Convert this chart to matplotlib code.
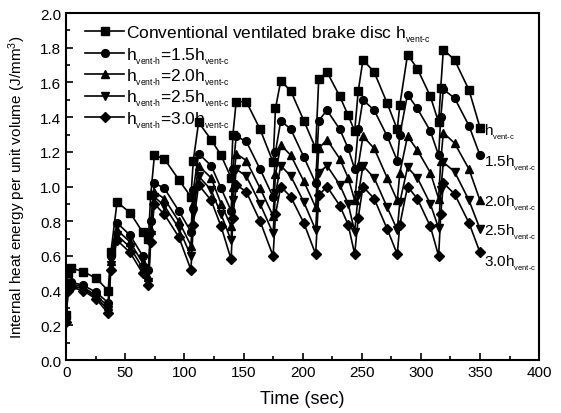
import matplotlib
matplotlib.use("Agg")
import matplotlib.pyplot as plt
from matplotlib.ticker import MultipleLocator

plt.rcParams["font.family"] = ["Liberation Sans", "DejaVu Sans"]
plt.rcParams["mathtext.fontset"] = "custom"
plt.rcParams["mathtext.rm"] = "Liberation Sans"
plt.rcParams["mathtext.it"] = "Liberation Sans"

# ---- data (time in sec, energy in J/mm^3) -----------------------------------
time_s = [0, 1.5, 4, 14.5, 25.5,
          35.5, 37.8, 43, 54, 64.7,
          69.5, 71.5, 74.6, 83, 95.2,
          105.5, 107.5, 112, 122.6, 131,
          139.5, 141, 143.8, 152.3, 164,
          175, 177, 181.5, 190, 201,
          211, 213.6, 220.6, 231.4, 238.5,
          244, 247, 251, 260.5, 271.5,
          280, 282.2, 288.7, 297, 308,
          315, 316.8, 319, 328.5, 340.7,
          350]

conventional = [0.26, 0.50, 0.53, 0.51, 0.47,
                0.40, 0.62, 0.91, 0.85, 0.736,
                0.70, 0.95, 1.18, 1.16, 1.04,
                0.94, 1.15, 1.37, 1.27, 1.18,
                1.05, 1.30, 1.49, 1.49, 1.33,
                1.14, 1.45, 1.61, 1.55, 1.38,
                1.22, 1.62, 1.66, 1.52, 1.41,
                1.32, 1.55, 1.73, 1.66, 1.48,
                1.33, 1.47, 1.76, 1.68, 1.52,
                1.37, 1.57, 1.79, 1.73, 1.556,
                1.34]

h15 = [0.25, 0.43, 0.45, 0.43, 0.39,
       0.33, 0.60, 0.79, 0.72, 0.60,
       0.52, 0.80, 1.02, 0.99, 0.86,
       0.74, 0.98, 1.19, 1.12, 0.99,
       0.86, 1.10, 1.29, 1.26, 1.10,
       0.94, 1.20, 1.38, 1.33, 1.17,
       1.02, 1.38, 1.44, 1.33, 1.22,
       1.10, 1.33, 1.50, 1.44, 1.29,
       1.15, 1.30, 1.53, 1.45, 1.32,
       1.18, 1.40, 1.56, 1.51, 1.35,
       1.18]

h20 = [0.24, 0.42, 0.44, 0.42, 0.37,
       0.31, 0.57, 0.75, 0.68, 0.56,
       0.48, 0.75, 0.97, 0.93, 0.80,
       0.66, 0.90, 1.12, 1.05, 0.90,
       0.77, 1.00, 1.19, 1.15, 0.99,
       0.83, 1.07, 1.24, 1.18, 1.03,
       0.88, 1.22, 1.27, 1.16, 1.05,
       0.92, 1.12, 1.29, 1.22, 1.05,
       0.92, 1.08, 1.29, 1.21, 1.08,
       0.93, 1.15, 1.31, 1.25, 1.10,
       0.92]

h25 = [0.23, 0.41, 0.43, 0.41, 0.36,
       0.29, 0.55, 0.72, 0.65, 0.53,
       0.45, 0.72, 0.94, 0.89, 0.76,
       0.60, 0.85, 1.06, 0.98, 0.84,
       0.69, 0.92, 1.10, 1.06, 0.90,
       0.73, 0.96, 1.12, 1.06, 0.91,
       0.75, 1.08, 1.12, 1.01, 0.90,
       0.74, 0.95, 1.12, 1.05, 0.88,
       0.75, 0.91, 1.11, 1.05, 0.90,
       0.76, 0.98, 1.14, 1.085, 0.92,
       0.755]

h30 = [0.22, 0.40, 0.42, 0.40, 0.35,
       0.27, 0.52, 0.69, 0.62, 0.50,
       0.43, 0.68, 0.90, 0.84, 0.71,
       0.52, 0.78, 1.01, 0.92, 0.77,
       0.58, 0.82, 1.01, 0.97, 0.80,
       0.60, 0.84, 1.00, 0.94, 0.79,
       0.61, 0.95, 1.00, 0.89, 0.78,
       0.61, 0.82, 1.00, 0.93, 0.755,
       0.61, 0.78, 1.00, 0.93, 0.77,
       0.60, 0.84, 1.02, 0.957, 0.79,
       0.62]

SUB_H = r"$_{_{\mathregular{vent‐h}}}$"
SUB_C = r"$_{_{\mathregular{vent‐c}}}$"
legend_labels = ["Conventional ventilated brake disc h" + SUB_C,
                 "h" + SUB_H + "=1.5h" + SUB_C,
                 "h" + SUB_H + "=2.0h" + SUB_C,
                 "h" + SUB_H + "=2.5h" + SUB_C,
                 "h" + SUB_H + "=3.0h" + SUB_C]
end_labels = ["h" + SUB_C, "1.5h" + SUB_C, "2.0h" + SUB_C,
              "2.5h" + SUB_C, "3.0h" + SUB_C]
end_label_y = [1.32, 1.14, 0.91, 0.74, 0.565]

series = [conventional, h15, h20, h25, h30]
markers = ["s", "o", "^", "v", "D"]
msizes = [5.3, 5.6, 6.0, 6.0, 5.0]

fig = plt.figure(figsize=(5.61, 4.14), dpi=100)
ax = fig.add_axes([0.118, 0.128, 0.843, 0.838])

for ys, mk, ms, lab in zip(series, markers, msizes, legend_labels):
    ax.plot(time_s, ys, color="black", lw=1.2, marker=mk, ms=ms,
            mfc="black", mec="black", label=lab)

for txt, yv in zip(end_labels, end_label_y):
    ax.text(353, yv, txt, fontsize=11, va="center", ha="left")

ax.set_xlim(0, 400)
ax.set_ylim(0, 2.0)
ax.xaxis.set_major_locator(MultipleLocator(50))
ax.xaxis.set_minor_locator(MultipleLocator(25))
ax.yaxis.set_major_locator(MultipleLocator(0.2))
ax.yaxis.set_minor_locator(MultipleLocator(0.1))
ax.yaxis.set_major_formatter(plt.FuncFormatter(lambda v, p: f"{v:.1f}"))
ax.tick_params(which="both", direction="in", labelsize=11, width=1.2)
ax.tick_params(which="major", length=5)
ax.tick_params(which="minor", length=3)
for s in ax.spines.values():
    s.set_linewidth(1.5)

ax.set_xlabel("Time (sec)", fontsize=13, labelpad=8)
ax.set_ylabel("Internal heat energy per unit volume (J/mm$^3$)", fontsize=11,
              labelpad=9)

ax.legend(loc="upper left", frameon=False, fontsize=12.5, handlelength=2.2,
          handletextpad=0.15, labelspacing=0.05, borderaxespad=0.3,
          bbox_to_anchor=(0.015, 1.005))

fig.savefig("out.png", dpi=100)
